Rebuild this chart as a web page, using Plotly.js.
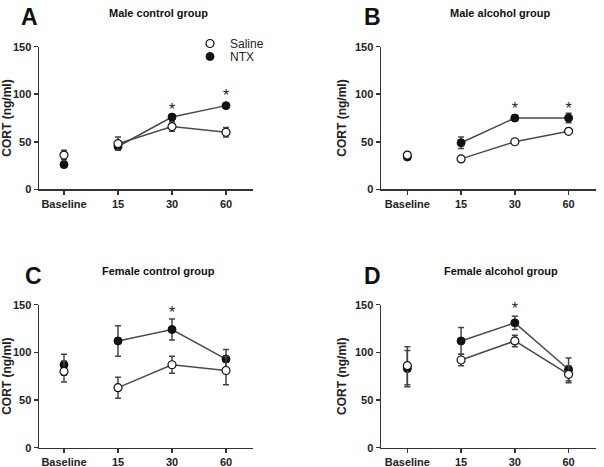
<!DOCTYPE html>
<html><head><meta charset="utf-8">
<script src="https://cdn.plot.ly/plotly-3.0.1.min.js"></script>
<style>html,body{margin:0;padding:0;background:#fff}#plot{width:604px;height:467px}</style>
</head><body><div id="plot"></div>
<script>
const cats = ['Baseline','15','30','60'];
const panelTitles = ['Male control group','Male alcohol group','Female control group','Female alcohol group'];
const panelLetters = ['A','B','C','D'];
const yTicks = [0,50,100,150];

const salA = [36,48,66,60],  salAerr = [5,7,5,5];
const ntxA = [26,45,76,88],  ntxAerr = [2,2,2,2];
const salB = [36,32,50,61],  salBerr = [1.5,1.5,1.5,1.5];
const ntxB = [34,49,75,75],  ntxBerr = [2,6,3,5];
const salC = [80,63,87,81],  salCerr = [11,11,9,15];
const ntxC = [87,112,124,93],ntxCerr = [11,16,11,10];
const salD = [86,92,112,77], salDerr = [20,6,6,9];
const ntxD = [83,112,131,82],ntxDerr = [19,14,7,12];

const starX = [['30','60'],['30','60'],['30'],['30']];
const starY = [[82,97],[83,83],[140],[144]];

const sal = [salA,salB,salC,salD], salErr=[salAerr,salBerr,salCerr,salDerr];
const ntx = [ntxA,ntxB,ntxC,ntxD], ntxErr=[ntxAerr,ntxBerr,ntxCerr,ntxDerr];

const W=604,H=467;
const boxes = [[39,253,46.7,189.3],[381,596,46.7,189.3],[39,253,304.7,447.7],[381,596,304.7,447.7]];
const xRanges = [[-0.463,3.5],[-0.49,3.51],[-0.463,3.5],[-0.49,3.51]];
const titlePos = [[158,13],[500,13],[158,271],[501,271]];
const letterPos = [[29,17],[372,17],[33,276],[372,276]];

const FONT = 'Liberation Sans, Arial, sans-serif';
const axCol = '#333', lnCol = '#4a4a4a';
const legBase = {xanchor:'left',yanchor:'top',bgcolor:'rgba(0,0,0,0)',
  font:{family:FONT,size:12,color:'#222'},itemwidth:30};
const traces = [], layout = {
  width:W,height:H,margin:{l:0,r:0,t:0,b:0},paper_bgcolor:'#fff',plot_bgcolor:'#fff',
  showlegend:true,
  legend:Object.assign({x:190/W,y:1-29/H},legBase),
  legend2:Object.assign({x:190/W,y:1-42/H},legBase),
  annotations:[],
  font:{family:FONT}
};

for(let i=0;i<4;i++){
  const xa = i===0?'x':'x'+(i+1), ya = i===0?'y':'y'+(i+1);
  const xk = i===0?'xaxis':'xaxis'+(i+1), yk = i===0?'yaxis':'yaxis'+(i+1);
  const b = boxes[i];
  layout[xk] = {domain:[b[0]/W,b[1]/W],anchor:ya,type:'category',categoryarray:cats,range:xRanges[i],
    showline:true,linecolor:axCol,linewidth:1.5,ticks:'outside',ticklen:4,tickwidth:1.5,tickcolor:axCol,
    showgrid:false,zeroline:false,tickfont:{family:FONT,size:11,color:'#222',weight:'bold'},fixedrange:true};
  layout[yk] = {domain:[1-b[3]/H,1-b[2]/H],anchor:xa,range:[0,150],tickvals:yTicks,
    showline:true,linecolor:axCol,linewidth:1.5,ticks:'outside',ticklen:4,tickwidth:1.5,tickcolor:axCol,
    showgrid:false,zeroline:false,tickfont:{family:FONT,size:11,color:'#222',weight:'bold'},
    title:{text:'CORT (ng/ml)',font:{family:FONT,size:12,color:'#222',weight:'bold'},standoff:5},fixedrange:true};
  traces.push({x:cats.slice(1),y:ntx[i].slice(1),xaxis:xa,yaxis:ya,mode:'lines',line:{color:lnCol,width:1.5},showlegend:false,hoverinfo:'skip'});
  traces.push({x:cats.slice(1),y:sal[i].slice(1),xaxis:xa,yaxis:ya,mode:'lines',line:{color:lnCol,width:1.5},showlegend:false,hoverinfo:'skip'});
  traces.push({x:cats,y:ntx[i],xaxis:xa,yaxis:ya,mode:'markers',name:'NTX',legend:'legend2',showlegend:i===0,cliponaxis:false,
    marker:{color:'#111',size:8,symbol:'circle',line:{color:'#111',width:1}},
    error_y:{type:'data',array:ntxErr[i],visible:true,color:'#444',thickness:1.5,width:3}});
  traces.push({x:cats,y:sal[i],xaxis:xa,yaxis:ya,mode:'markers',name:'Saline',legend:'legend',showlegend:i===0,cliponaxis:false,
    marker:{color:'#fff',size:8,symbol:'circle',line:{color:'#111',width:1.2}},
    error_y:{type:'data',array:salErr[i],visible:true,color:'#444',thickness:1.5,width:3}});
  traces.push({x:starX[i],y:starY[i],xaxis:xa,yaxis:ya,mode:'text',text:starX[i].map(()=>'*'),
    textfont:{family:FONT,size:16,color:'#222'},textposition:'middle center',showlegend:false,cliponaxis:false,hoverinfo:'skip'});
  layout.annotations.push({xref:'paper',yref:'paper',x:titlePos[i][0]/W,y:1-titlePos[i][1]/H,text:panelTitles[i],
    showarrow:false,xanchor:'center',yanchor:'middle',font:{family:FONT,size:11,color:'#111',weight:'bold'}});
  layout.annotations.push({xref:'paper',yref:'paper',x:letterPos[i][0]/W,y:1-letterPos[i][1]/H,text:panelLetters[i],
    showarrow:false,xanchor:'center',yanchor:'middle',font:{family:FONT,size:23,color:'#111',weight:'bold'}});
}
Plotly.newPlot('plot',traces,layout,{displayModeBar:false,staticPlot:true});
</script></body></html>
